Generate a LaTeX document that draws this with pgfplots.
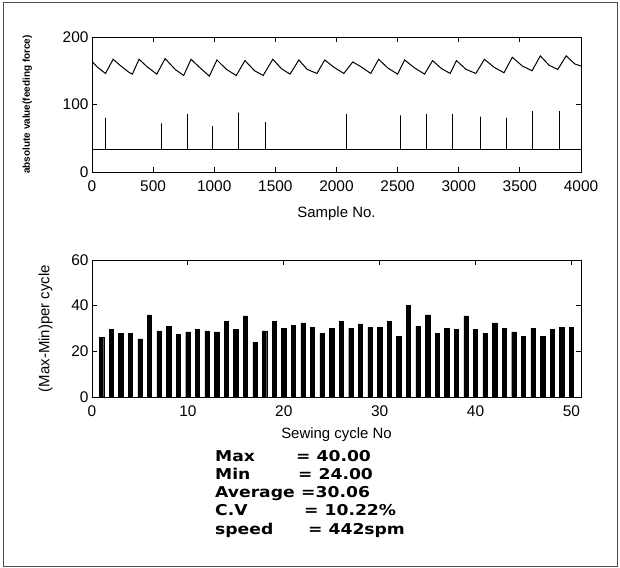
\documentclass[border=0pt]{standalone}
\usepackage{pgfplots}
\pgfplotsset{compat=1.18}
\usepackage{fontspec}
\setmainfont{Liberation Sans}
\newfontfamily\statfont[FakeStretch=1.15]{DejaVu Sans Bold}
\begin{document}
\begin{tikzpicture}
\path[use as bounding box] (0bp,0bp) rectangle (620bp,568bp);
\draw[line width=0.8bp, black!70] (3bp,2bp) rectangle (617bp,566bp);
\pgfplotsset{every axis/.append style={
  scale only axis,
  tick align=inside,
  xtick pos=both, ytick pos=both,
  xticklabel pos=bottom, yticklabel pos=left,
  major tick length=5bp,
  axis line style={line width=0.8bp},
  every tick/.style={black, line width=0.8bp},
  tick label style={font=\fontsize{15.5}{15.5}\selectfont},
  xticklabel style={yshift=-5bp},
  label style={font=\fontsize{15}{15}\selectfont},
  /pgf/number format/assume math mode=true,
  /pgf/number format/1000 sep={},
}}
% ---------- top plot ----------
\begin{axis}[
  at={(92bp,396bp)}, anchor=south west, width=489bp, height=135bp,
  xmin=0, xmax=4000, ymin=0, ymax=200,
  xtick={0,500,...,4000}, ytick={0,100,200},
  xlabel={Sample No.},
  xlabel style={yshift=-8bp},
  ylabel={absolute value(feeding force)},
  ylabel style={font=\fontsize{10}{10}\selectfont\bfseries, yshift=24bp},
]
\addplot[black, line width=1.0bp] coordinates {
(0,164) (40,156) (110,146) (173,167) (230,158) (300,148) (330,145)
(385,167) (450,156) (530,145) (598,168) (680,152) (750,143)
(810,167) (880,155) (960,142) (1022,166) (1100,152) (1180,143)
(1251,165) (1330,150) (1400,143) (1479,167) (1550,153) (1620,145)
(1692,166) (1760,152) (1840,146) (1904,166) (1980,155) (2060,146)
(2133,163) (2200,156) (2280,146) (2345,167) (2420,154) (2500,145)
(2557,166) (2640,154) (2720,145) (2786,165) (2860,153) (2930,146)
(2981,165) (3060,152) (3140,146) (3210,167) (3290,155) (3370,147)
(3438,170) (3520,157) (3600,150) (3667,172) (3740,158) (3810,152)
(3879,172) (3950,160) (4000,157)
};
\addplot[black, line width=0.9bp] coordinates {
(0,33) (114,33) (114,80) (114,33) (565,33) (565,72) (565,33)
(777,33) (777,86) (777,33) (989,33) (989,68) (989,33)
(1202,33) (1202,88) (1202,33) (1420,33) (1420,74) (1420,33)
(2083,33) (2083,86) (2083,33) (2524,33) (2524,84) (2524,33)
(2736,33) (2736,86) (2736,33) (2948,33) (2948,86) (2948,33)
(3177,33) (3177,82) (3177,33) (3389,33) (3389,80) (3389,33)
(3601,33) (3601,90) (3601,33) (3823,33) (3823,90) (3823,33)
(4000,33)
};
\end{axis}
% ---------- bottom plot ----------
\begin{axis}[
  at={(92bp,171bp)}, anchor=south west, width=489bp, height=137bp,
  xmin=0, xmax=51, ymin=0, ymax=60,
  xtick={0,10,...,50}, ytick={0,20,40,60},
  xlabel={Sewing cycle No},
  xlabel style={yshift=-4bp},
  ylabel={(Max-Min)per cycle},
  ylabel style={yshift=12bp},
]
\addplot[ybar, bar width=0.45, fill=black, draw=black] coordinates {
(1,26) (2,29.5) (3,28) (4,28) (5,25.5) (6,36) (7,29) (8,31) (9,27.5) (10,28.5)
(11,29.5) (12,29) (13,28.5) (14,33) (15,29.5) (16,35.5) (17,24) (18,29) (19,33) (20,30)
(21,31.5) (22,32.5) (23,30.5) (24,28) (25,30) (26,33) (27,30) (28,32) (29,30.5) (30,30.5)
(31,33) (32,26.5) (33,40) (34,31) (35,36) (36,28) (37,30) (38,29.5) (39,35.5) (40,29.5)
(41,28) (42,32.5) (43,30) (44,28.5) (45,26.5) (46,30) (47,26.5) (48,29.5) (49,30.5) (50,30.5)
};
\end{axis}
% ---------- statistics ----------
\begin{scope}[every node/.style={anchor=base west, inner sep=0pt, font=\statfont\fontsize{15}{15}\selectfont}]
\node at (215bp,106bp) {Max};     \node at (296bp,106bp) {= 40.00};
\node at (215bp,88bp)  {Min};     \node at (298bp,88bp)  {= 24.00};
\node at (215bp,70bp)  {Average}; \node at (301bp,70bp)  {=30.06};
\node at (215bp,52bp)  {C.V};     \node at (304bp,52bp)  {= 10.22\%};
\node at (215bp,34bp)  {speed};   \node at (308bp,34bp)  {= 442spm};
\end{scope}
\end{tikzpicture}
\end{document}
